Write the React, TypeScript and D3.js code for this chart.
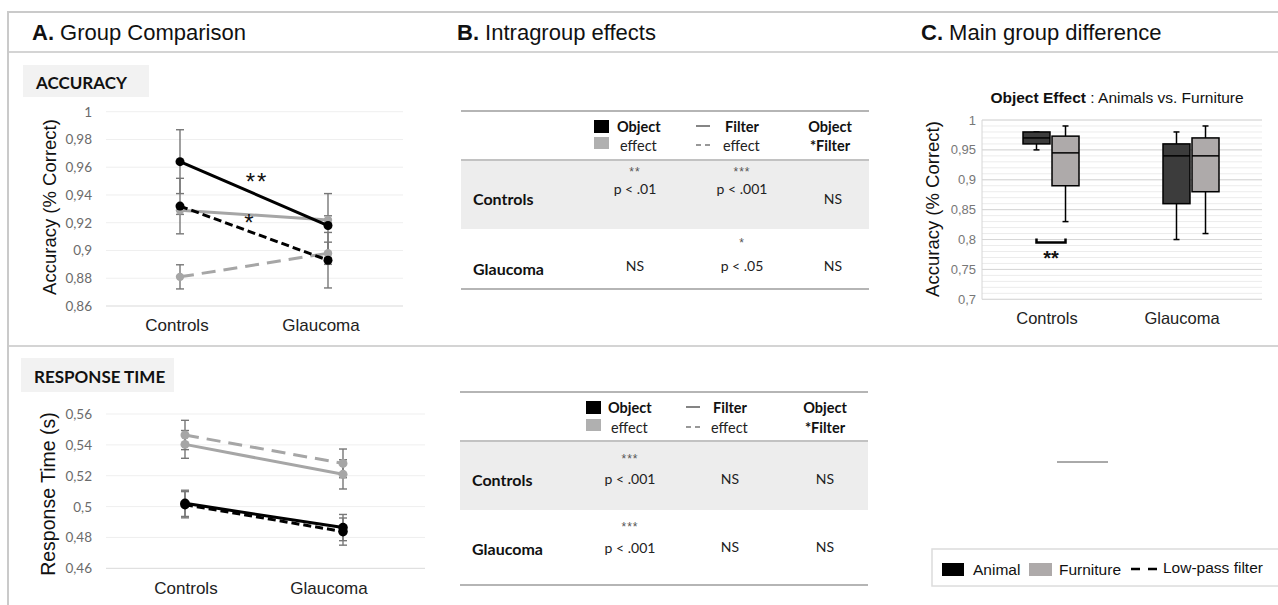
import React from 'react';
import * as d3 from 'd3';

// ---------- data ----------
const groups = ['Controls', 'Glaucoma'];
const objects = ['Animal', 'Furniture'];

// Panel A – accuracy
const accTicks = [0.86, 0.88, 0.9, 0.92, 0.94, 0.96, 0.98, 1];
const accAnimal = [0.964, 0.918];
const accAnimalErr = [0.023, 0.023];
const accAnimalLP = [0.932, 0.893];
const accAnimalLPErr = [0.02, 0.02];
const accFurniture = [0.929, 0.922];
const accFurnitureErr = [0.003, 0.003];
const accFurnitureLP = [0.881, 0.898];
const accFurnitureLPErr = [0.0087, 0.008];

// Panel A – response time
const rtTicks = [0.46, 0.48, 0.5, 0.52, 0.54, 0.56];
const rtAnimal = [0.5021, 0.4864];
const rtAnimalErr = [0.0085, 0.0085];
const rtAnimalLP = [0.5012, 0.4838];
const rtAnimalLPErr = [0.0085, 0.0088];
const rtFurniture = [0.5403, 0.5209];
const rtFurnitureErr = [0.009, 0.0095];
const rtFurnitureLP = [0.5464, 0.528];
const rtFurnitureLPErr = [0.0095, 0.0093];

// Panel B – tables
const tableGroups = ['Controls', 'Glaucoma'];
const accObjectStars = ['**', ''];
const accObjectCell = ['p < .01', 'NS'];
const accFilterStars = ['***', '*'];
const accFilterCell = ['p < .001', 'p < .05'];
const accInterStars = ['', ''];
const accInterCell = ['NS', 'NS'];
const rtObjectStars = ['***', '***'];
const rtObjectCell = ['p < .001', 'p < .001'];
const rtFilterStars = ['', ''];
const rtFilterCell = ['NS', 'NS'];
const rtInterStars = ['', ''];
const rtInterCell = ['NS', 'NS'];

// Panel C – box plots
const boxTicks = [0.7, 0.75, 0.8, 0.85, 0.9, 0.95, 1];
const boxGroup = ['Controls', 'Controls', 'Glaucoma', 'Glaucoma'];
const boxObject = ['Animal', 'Furniture', 'Animal', 'Furniture'];
const boxMin = [0.95, 0.83, 0.8, 0.81];
const boxQ1 = [0.96, 0.89, 0.86, 0.88];
const boxMedian = [0.97, 0.945, 0.94, 0.94];
const boxQ3 = [0.98, 0.973, 0.96, 0.97];
const boxMax = [0.98, 0.99, 0.98, 0.99];
const sigLevel = 0.795;

// ---------- styles ----------
const ARIAL = '"Liberation Sans", Arial, sans-serif';
const CAL = 'Lato, "Open Sans", sans-serif';
const BLACK = '#000000';
const GRAY = '#a6a6a6';
const FRAME = '#cacaca';

const fmt = (v: number) => String(v).replace('.', ',');

type S = { values: number[]; err: number[]; color: string; dash?: string; r: number };

function LineChart(props: {
  ticks: number[]; yDomain: [number, number]; yRange: [number, number];
  xPts: [number, number]; xLbl: [number, number]; gridX: [number, number];
  labelY: number; series: S[]; title: string; titleX: number; titleY: number; titleSize: number;
}) {
  const { ticks, yDomain, yRange, xPts, xLbl, gridX, labelY, series } = props;
  const y = d3.scaleLinear().domain(yDomain).range(yRange);
  const x = d3.scalePoint<string>().domain(groups).range(xPts);
  const xl = d3.scalePoint<string>().domain(groups).range(xLbl);
  const line = d3.line<number>().x((_, i) => x(groups[i])!).y((d) => y(d));
  return (
    <g>
      {ticks.map((t, i) => (
        <g key={t}>
          <line x1={gridX[0]} x2={gridX[1]} y1={y(t)} y2={y(t)} stroke={i === 0 ? '#d9d9d9' : '#efefef'} strokeWidth={1} />
          <text x={92} y={y(t)} textAnchor="end" dominantBaseline="central" fontFamily={CAL} fontSize={13.5} fill="#6b6b6b">{fmt(t)}</text>
        </g>
      ))}
      {groups.map((g) => (
        <text key={g} x={xl(g)} y={labelY} textAnchor="middle" fontFamily={ARIAL} fontSize={17} fill="#222">{g}</text>
      ))}
      <text transform={`translate(${props.titleX},${props.titleY}) rotate(-90)`} textAnchor="middle" dominantBaseline="central" fontFamily={ARIAL} fontSize={props.titleSize} fill="#111">{props.title}</text>
      {series.map((s, si) => (
        <g key={'e' + si}>
          {s.values.map((v, i) => {
            const cx = x(groups[i])!;
            return (
              <g key={i} stroke="#777" strokeWidth={1.4}>
                <line x1={cx} x2={cx} y1={y(v - s.err[i])} y2={y(v + s.err[i])} />
                <line x1={cx - 4} x2={cx + 4} y1={y(v - s.err[i])} y2={y(v - s.err[i])} />
                <line x1={cx - 4} x2={cx + 4} y1={y(v + s.err[i])} y2={y(v + s.err[i])} />
              </g>
            );
          })}
        </g>
      ))}
      {series.map((s, si) => (
        <g key={'l' + si}>
          <path d={line(s.values)!} fill="none" stroke={s.color} strokeWidth={3} strokeDasharray={s.dash} />
          {s.values.map((v, i) => (
            <circle key={i} cx={x(groups[i])!} cy={y(v)} r={s.r} fill={s.color} />
          ))}
        </g>
      ))}
    </g>
  );
}

type TableCfg = {
  x0: number; x1: number; top: number; headRule: number; shadeEnd: number; bottom: number;
  labelX: number; cols: number[];
  sqX: number; sqY1: number; sqY2: number; objX: number; effX: number;
  dashX: number; filtX: number; eff2X: number; interX: number; hY1: number; hY2: number;
  starY: number[]; pY: number[]; nsY: number[]; labelY: number[];
  stars: string[][]; cells: string[][];
};

function StatsTable({ c }: { c: TableCfg }) {
  return (
    <g fontFamily={CAL}>
      <rect x={c.x0} y={c.headRule} width={c.x1 - c.x0} height={c.shadeEnd - c.headRule} fill="#ededed" />
      <line x1={c.x0} x2={c.x1} y1={c.top} y2={c.top} stroke="#b5b5b5" strokeWidth={2} />
      <line x1={c.x0} x2={c.x1} y1={c.headRule} y2={c.headRule} stroke="#c2c2c2" strokeWidth={2} />
      <line x1={c.x0} x2={c.x1} y1={c.bottom} y2={c.bottom} stroke="#b5b5b5" strokeWidth={2} />
      {/* header */}
      <rect x={c.sqX} y={c.sqY1} width={15} height={13} fill="#000" />
      <rect x={c.sqX} y={c.sqY2} width={15} height={12} fill="#b0b0b0" />
      <text x={c.objX} y={c.hY1} dominantBaseline="central" fontSize={14.5} fontWeight={700} fill="#111">Object</text>
      <text x={c.effX} y={c.hY2} dominantBaseline="central" fontSize={14.5} fill="#222">effect</text>
      <line x1={c.dashX} x2={c.dashX + 14} y1={c.hY1} y2={c.hY1} stroke="#333" strokeWidth={1.2} />
      <line x1={c.dashX} x2={c.dashX + 14} y1={c.hY2} y2={c.hY2} stroke="#333" strokeWidth={1.2} strokeDasharray="5,4" />
      <text x={c.filtX} y={c.hY1} dominantBaseline="central" fontSize={14.5} fontWeight={700} fill="#111">Filter</text>
      <text x={c.eff2X} y={c.hY2} dominantBaseline="central" fontSize={14.5} fill="#222">effect</text>
      <text x={c.interX} y={c.hY1} textAnchor="middle" dominantBaseline="central" fontSize={14.5} fontWeight={700} fill="#111">Object</text>
      <text x={c.interX} y={c.hY2} textAnchor="middle" dominantBaseline="central" fontSize={14.5} fontWeight={700} fill="#111">*Filter</text>
      {tableGroups.map((g, ri) => (
        <g key={g}>
          <text x={c.labelX} y={c.labelY[ri]} dominantBaseline="central" fontSize={16} fontWeight={700} fill="#111">{g}</text>
          {c.cols.map((cx, ci) => {
            const st = c.stars[ci][ri];
            const tx = c.cells[ci][ri];
            return (
              <g key={ci}>
                {st ? <text x={cx} y={c.starY[ri]} textAnchor="middle" dominantBaseline="central" fontFamily={ARIAL} fontSize={12} letterSpacing={1} fill="#555">{st}</text> : null}
                <text x={cx} y={st ? c.pY[ri] : c.nsY[ri]} textAnchor="middle" dominantBaseline="central" fontSize={14} fill="#222">{tx}</text>
              </g>
            );
          })}
        </g>
      ))}
    </g>
  );
}

function BoxPanel() {
  const y = d3.scaleLinear().domain([0.7, 1]).range([299.3, 120]);
  const xg = d3.scaleBand<string>().domain(groups).range([982, 1262]);
  const xo = d3.scaleBand<string>().domain(objects).range([0, 56]).paddingInner(0.07);
  const xl = d3.scalePoint<string>().domain(groups).range([1047, 1182]);
  const minor = d3.range(70, 101).map((v) => v / 100);
  const bx = (i: number) => xg(boxGroup[i])! + xg.bandwidth() / 2 - 29 + xo(boxObject[i])!;
  const bw = xo.bandwidth();
  const cA = bx(0) + bw / 2;
  const cF = bx(1) + bw / 2;
  const ys = y(sigLevel);
  return (
    <g>
      <text x={1117} y={97} textAnchor="middle" dominantBaseline="central" fontFamily={ARIAL} fontSize={15.5} fill="#111">
        <tspan fontWeight={700}>Object Effect</tspan> : Animals vs. Furniture
      </text>
      {minor.map((t) => (
        <line key={t} x1={982} x2={1262} y1={y(t)} y2={y(t)} stroke="#ececec" strokeWidth={1} />
      ))}
      {boxTicks.map((t) => (
        <g key={t}>
          <line x1={982} x2={1262} y1={y(t)} y2={y(t)} stroke="#d6d6d6" strokeWidth={1} />
          <text x={976} y={y(t)} textAnchor="end" dominantBaseline="central" fontFamily={ARIAL} fontSize={13} fill="#777">{fmt(t)}</text>
        </g>
      ))}
      <line x1={982} x2={982} y1={y(1)} y2={y(0.7)} stroke="#d6d6d6" strokeWidth={1} />
      {groups.map((g) => (
        <text key={g} x={xl(g)} y={318} textAnchor="middle" dominantBaseline="central" fontFamily={ARIAL} fontSize={16.5} fill="#222">{g}</text>
      ))}
      <text transform={`translate(932,209) rotate(-90)`} textAnchor="middle" dominantBaseline="central" fontFamily={ARIAL} fontSize={18.5} fill="#111">Accuracy (% Correct)</text>
      {boxGroup.map((_, i) => {
        const x0 = bx(i);
        const cx = x0 + bw / 2;
        const fill = boxObject[i] === 'Animal' ? '#3c3c3c' : '#aeaaaa';
        return (
          <g key={i} stroke="#000" strokeWidth={1.5}>
            <line x1={cx} x2={cx} y1={y(boxMax[i])} y2={y(boxQ3[i])} />
            <line x1={cx} x2={cx} y1={y(boxQ1[i])} y2={y(boxMin[i])} />
            <line x1={cx - 3} x2={cx + 3} y1={y(boxMax[i])} y2={y(boxMax[i])} />
            <line x1={cx - 3} x2={cx + 3} y1={y(boxMin[i])} y2={y(boxMin[i])} />
            <rect x={x0} y={y(boxQ3[i])} width={bw} height={y(boxQ1[i]) - y(boxQ3[i])} fill={fill} />
            <line x1={x0} x2={x0 + bw} y1={y(boxMedian[i])} y2={y(boxMedian[i])} />
          </g>
        );
      })}
      <path d={`M${cA},${ys - 4}V${ys}H${cF}V${ys - 4}`} fill="none" stroke="#000" strokeWidth={2.5} />
      <text x={(cA + cF) / 2} y={ys + 15} textAnchor="middle" dominantBaseline="central" fontFamily={ARIAL} fontSize={20} fontWeight={700} fill="#111">**</text>
    </g>
  );
}

export default function App() {
  const accSeries: S[] = [
    { values: accFurnitureLP, err: accFurnitureLPErr, color: GRAY, dash: '14,8', r: 4.2 },
    { values: accFurniture, err: accFurnitureErr, color: GRAY, r: 4.2 },
    { values: accAnimalLP, err: accAnimalLPErr, color: BLACK, dash: '8,4', r: 4.5 },
    { values: accAnimal, err: accAnimalErr, color: BLACK, r: 4.5 },
  ];
  const rtSeries: S[] = [
    { values: rtFurnitureLP, err: rtFurnitureLPErr, color: GRAY, dash: '14,8', r: 4.5 },
    { values: rtFurniture, err: rtFurnitureErr, color: GRAY, r: 4.5 },
    { values: rtAnimalLP, err: rtAnimalLPErr, color: BLACK, dash: '8,4', r: 4.8 },
    { values: rtAnimal, err: rtAnimalErr, color: BLACK, r: 4.8 },
  ];
  const accTable: TableCfg = {
    x0: 461, x1: 869, top: 111, headRule: 160, shadeEnd: 229, bottom: 289,
    labelX: 473, cols: [635, 742, 833],
    sqX: 594, sqY1: 120, sqY2: 137, objX: 617, effX: 620,
    dashX: 696, filtX: 725, eff2X: 723, interX: 830, hY1: 126, hY2: 145,
    starY: [172, 243], pY: [188, 265], nsY: [198, 265], labelY: [198, 268],
    stars: [accObjectStars, accFilterStars, accInterStars],
    cells: [accObjectCell, accFilterCell, accInterCell],
  };
  const rtTable: TableCfg = {
    x0: 460, x1: 868, top: 392, headRule: 441, shadeEnd: 510, bottom: 585,
    labelX: 472, cols: [630, 730, 825],
    sqX: 586, sqY1: 401, sqY2: 419, objX: 608, effX: 611,
    dashX: 686, filtX: 713, eff2X: 711, interX: 825, hY1: 407, hY2: 427,
    starY: [459, 527], pY: [478, 547], nsY: [478, 546], labelY: [479, 548],
    stars: [rtObjectStars, rtFilterStars, rtInterStars],
    cells: [rtObjectCell, rtFilterCell, rtInterCell],
  };
  return (
    <svg width={1278} height={605} viewBox="0 0 1278 605" style={{ position: 'absolute', left: 0, top: 0, background: '#fff' }}>
      {/* frame */}
      <line x1={8} x2={1278} y1={12} y2={12} stroke={FRAME} strokeWidth={2} />
      <line x1={8} x2={1278} y1={52} y2={52} stroke="#d4d4d4" strokeWidth={2} />
      <line x1={8} x2={1278} y1={346} y2={346} stroke="#d4d4d4" strokeWidth={2} />
      <line x1={8} x2={8} y1={11} y2={605} stroke={FRAME} strokeWidth={2} />

      {/* headers */}
      <text x={32} y={40} fontFamily={ARIAL} fontSize={22} fill="#111"><tspan fontWeight={700}>A.</tspan> Group Comparison</text>
      <text x={457} y={40} fontFamily={ARIAL} fontSize={22} fill="#111"><tspan fontWeight={700}>B.</tspan> Intragroup effects</text>
      <text x={921} y={40} fontFamily={ARIAL} fontSize={22} fill="#111"><tspan fontWeight={700}>C.</tspan> Main group difference</text>

      {/* panel A labels */}
      <rect x={23} y={65} width={126} height={32} fill="#f2f2f2" />
      <text x={36} y={82} dominantBaseline="central" fontFamily={CAL} fontSize={17} fontWeight={700} fill="#111">ACCURACY</text>
      <rect x={21} y={358} width={153} height={34} fill="#f2f2f2" />
      <text x={34} y={376} dominantBaseline="central" fontFamily={CAL} fontSize={17} fontWeight={700} fill="#111">RESPONSE TIME</text>

      <LineChart ticks={accTicks} yDomain={[0.86, 1]} yRange={[306, 111.7]} xPts={[180, 328]} xLbl={[177, 321]}
        gridX={[106, 403]} labelY={331} series={accSeries} title="Accuracy (% Correct)" titleX={49} titleY={207} titleSize={18.5} />
      <text x={257} y={190} textAnchor="middle" fontFamily={ARIAL} fontSize={24} letterSpacing={2} fill="#111">**</text>
      <text x={249} y={231} textAnchor="middle" fontFamily={ARIAL} fontSize={24} fill="#111">*</text>

      <LineChart ticks={rtTicks} yDomain={[0.46, 0.56]} yRange={[568.3, 414]} xPts={[185, 343]} xLbl={[186, 329]}
        gridX={[106, 425]} labelY={594} series={rtSeries} title="Response Time (s)" titleX={48} titleY={494} titleSize={19.5} />

      <StatsTable c={accTable} />
      <StatsTable c={rtTable} />

      <BoxPanel />

      {/* stray rule and legend */}
      <line x1={1057} x2={1108} y1={462} y2={462} stroke="#555" strokeWidth={1} />
      <rect x={932} y={549} width={350} height={37} fill="#fff" stroke="#dcdcdc" strokeWidth={1.5} />
      <rect x={942} y={563} width={22} height={13} fill="#000" />
      <text x={973} y={569.5} dominantBaseline="central" fontFamily={ARIAL} fontSize={15.5} fill="#111">Animal</text>
      <rect x={1029} y={563} width={23} height={13} fill="#aeaaaa" />
      <text x={1059} y={569.5} dominantBaseline="central" fontFamily={ARIAL} fontSize={15.5} fill="#111">Furniture</text>
      <line x1={1131} x2={1157} y1={569} y2={569} stroke="#000" strokeWidth={2.5} strokeDasharray="9,8" />
      <text x={1163} y={567.5} dominantBaseline="central" fontFamily={ARIAL} fontSize={15.5} fill="#111">Low-pass filter</text>
    </svg>
  );
}
